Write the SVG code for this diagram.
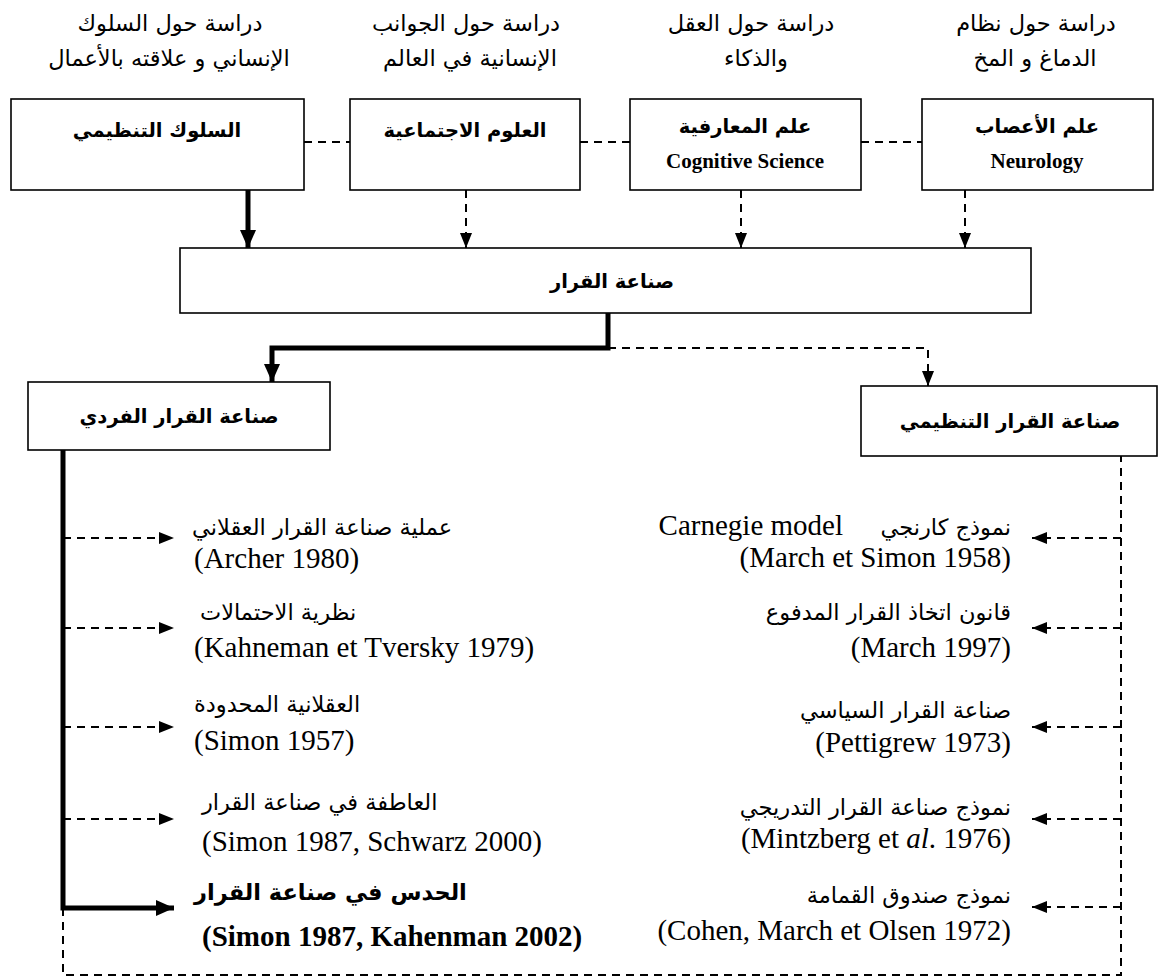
<svg xmlns="http://www.w3.org/2000/svg" width="1161" height="979" viewBox="0 0 1161 979">
<defs>
<style>
.box{fill:#fff;stroke:#000;stroke-width:1.6}
.ar{font-family:"DejaVu Sans","Noto Sans",sans-serif;fill:#000}
.lab{font-size:22.5px;text-anchor:middle}
.bt{font-size:19.5px;font-weight:bold;text-anchor:middle}
.en{font-family:"Liberation Serif","Times New Roman",serif;fill:#000;font-size:29px}
.enb{font-family:"Liberation Serif","Times New Roman",serif;fill:#000;font-size:21px;font-weight:bold;text-anchor:middle}
.li{font-size:22.5px}
.thick{stroke:#000;stroke-width:5;fill:none}
.dash{stroke:#000;stroke-width:2;fill:none;stroke-dasharray:8 6}
</style>
<marker id="ah" markerUnits="userSpaceOnUse" markerWidth="20" markerHeight="20" viewBox="0 0 20 20" refX="18" refY="10" orient="auto">
<polygon points="0,2 18,10 0,18" fill="#000"/>
</marker>
<marker id="as" markerUnits="userSpaceOnUse" markerWidth="16" markerHeight="16" viewBox="0 0 16 16" refX="15" refY="8" orient="auto">
<polygon points="0,2 15,8 0,14" fill="#000"/>
</marker>
</defs>
<rect width="1161" height="979" fill="#fff"/>

<g id="labels">
<text class="ar lab" x="170" y="31">دراسة حول السلوك</text>
<text class="ar lab" x="169" y="66">الإنساني و علاقته بالأعمال</text>
<text class="ar lab" x="466" y="31">دراسة حول الجوانب</text>
<text class="ar lab" x="470" y="66">الإنسانية في العالم</text>
<text class="ar lab" x="751" y="31">دراسة حول العقل</text>
<text class="ar lab" x="756" y="66">والذكاء</text>
<text class="ar lab" x="1036" y="31">دراسة حول نظام</text>
<text class="ar lab" x="1035" y="66">الدماغ و المخ</text>
</g>

<g id="connectors">
<line class="dash" x1="304" y1="142" x2="350" y2="142"/>
<line class="dash" x1="580" y1="142" x2="630" y2="142"/>
<line class="dash" x1="861" y1="142" x2="922" y2="142"/>
<line class="thick" x1="248" y1="190" x2="248" y2="248" marker-end="url(#ah)"/>
<line class="dash" x1="466" y1="190" x2="466" y2="248" marker-end="url(#as)"/>
<line class="dash" x1="741" y1="190" x2="741" y2="248" marker-end="url(#as)"/>
<line class="dash" x1="965" y1="190" x2="965" y2="248" marker-end="url(#as)"/>
<polyline class="thick" points="608,313 608,348 272,348 272,382" marker-end="url(#ah)"/>
<polyline class="dash" points="608,348 928,348 928,386" marker-end="url(#as)"/>
<polyline class="thick" points="63,450 63,908 174,908" marker-end="url(#ah)"/>
<line class="dash" x1="63" y1="538" x2="174" y2="538" marker-end="url(#as)"/>
<line class="dash" x1="63" y1="628" x2="174" y2="628" marker-end="url(#as)"/>
<line class="dash" x1="63" y1="727" x2="174" y2="727" marker-end="url(#as)"/>
<line class="dash" x1="63" y1="819" x2="174" y2="819" marker-end="url(#as)"/>
<polyline class="dash" points="63,908 63,975 1121,975 1121,456"/>
<line class="dash" x1="1121" y1="538" x2="1032" y2="538" marker-end="url(#as)"/>
<line class="dash" x1="1121" y1="628" x2="1032" y2="628" marker-end="url(#as)"/>
<line class="dash" x1="1121" y1="727" x2="1032" y2="727" marker-end="url(#as)"/>
<line class="dash" x1="1121" y1="819" x2="1032" y2="819" marker-end="url(#as)"/>
<line class="dash" x1="1121" y1="907" x2="1032" y2="907" marker-end="url(#as)"/>
</g>

<g id="n-org-behavior">
<rect class="box" x="11" y="99" width="293" height="91"/>
<text class="ar bt" x="157" y="137">السلوك التنظيمي</text>
</g>
<g id="n-social">
<rect class="box" x="350" y="99" width="230" height="91"/>
<text class="ar bt" x="465" y="137">العلوم الاجتماعية</text>
</g>
<g id="n-cognitive">
<rect class="box" x="630" y="99" width="231" height="91"/>
<text class="ar bt" x="745" y="133">علم المعارفية</text>
<text class="enb" x="745" y="168" direction="ltr">Cognitive Science</text>
</g>
<g id="n-neuro">
<rect class="box" x="922" y="99" width="231" height="91"/>
<text class="ar bt" x="1037" y="133">علم الأعصاب</text>
<text class="enb" x="1037" y="168" direction="ltr">Neurology</text>
</g>
<g id="n-decision">
<rect class="box" x="180" y="248" width="851" height="65"/>
<text class="ar bt" x="612" y="288">صناعة القرار</text>
</g>
<g id="n-individual">
<rect class="box" x="28" y="382" width="302" height="68"/>
<text class="ar bt" x="179" y="423">صناعة القرار الفردي</text>
</g>
<g id="n-organizational">
<rect class="box" x="861" y="386" width="296" height="70"/>
<text class="ar bt" x="1010" y="428">صناعة القرار التنظيمي</text>
</g>

<g id="left-items">
<text class="ar li" x="192" y="535">عملية صناعة القرار العقلاني</text>
<text class="en" x="194" y="568" direction="ltr">(Archer 1980)</text>
<text class="ar li" x="200" y="620">نظرية الاحتمالات</text>
<text class="en" x="194" y="657" direction="ltr">(Kahneman et Tversky 1979)</text>
<text class="ar li" x="194" y="712">العقلانية المحدودة</text>
<text class="en" x="194" y="750" direction="ltr">(Simon 1957)</text>
<text class="ar li" x="202" y="810">العاطفة في صناعة القرار</text>
<text class="en" x="202" y="851" direction="ltr">(Simon 1987, Schwarz 2000)</text>
<text class="ar li" x="194" y="900" font-weight="bold">الحدس في صناعة القرار</text>
<text class="en" x="202" y="946" font-weight="bold" direction="ltr">(Simon 1987, Kahenman 2002)</text>
</g>

<g id="right-items" text-anchor="end">
<text class="ar li" x="1011" y="535">نموذج كارنجي</text>
<text class="en" x="843" y="535" direction="ltr">Carnegie model</text>
<text class="en" x="1011" y="567" direction="ltr">(March et Simon 1958)</text>
<text class="ar li" x="1011" y="620">قانون اتخاذ القرار المدفوع</text>
<text class="en" x="1011" y="657" direction="ltr">(March 1997)</text>
<text class="ar li" x="1011" y="718">صناعة القرار السياسي</text>
<text class="en" x="1011" y="752" direction="ltr">(Pettigrew 1973)</text>
<text class="ar li" x="1011" y="815">نموذج صناعة القرار التدريجي</text>
<text class="en" x="1011" y="848" direction="ltr">(Mintzberg et <tspan font-style="italic">al</tspan>. 1976)</text>
<text class="ar li" x="1011" y="903">نموذج صندوق القمامة</text>
<text class="en" x="1011" y="940" direction="ltr">(Cohen, March et Olsen 1972)</text>
</g>
</svg>
